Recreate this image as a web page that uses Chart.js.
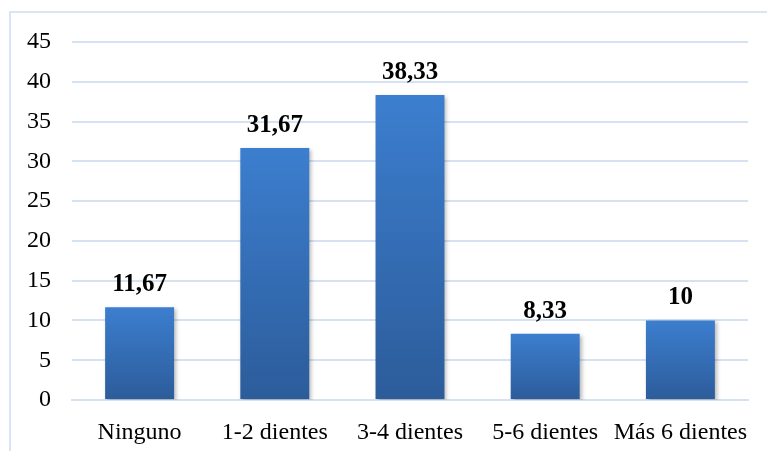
<!DOCTYPE html>
<html>
<head>
<meta charset="utf-8">
<script src="https://cdn.jsdelivr.net/npm/chart.js@4"></script>
<style>
  html, body { margin: 0; padding: 0; background: #fff; }
  #wrap { position: relative; width: 767px; height: 451px; overflow: hidden; }
  #frame { position: absolute; left: 9px; top: 11px; width: 800px; height: 500px;
           border-top: 2px solid #dae4f3; border-left: 2px solid #dae4f3; }
  canvas { position: absolute; left: 0; top: 0; }
</style>
</head>
<body>
<div id="wrap">
  <div id="frame"></div>
  <canvas id="chart" width="767" height="451"></canvas>
</div>
<script>
// Chart data
const categories = ["Ninguno", "1-2 dientes", "3-4 dientes", "5-6 dientes", "Más 6 dientes"];
const values = [11.67, 31.67, 38.33, 8.33, 10];
const yTicks = [0, 5, 10, 15, 20, 25, 30, 35, 40, 45];

const serif = "'Liberation Serif', 'Times New Roman', serif";

// Per-bar vertical gradient
function barGradient(context) {
    const chart = context.chart;
    if (!chart.chartArea || !chart.scales.y) return "#3476c4";
    const y = chart.scales.y;
    const top = y.getPixelForValue(values[context.dataIndex]);
    const bottom = y.getPixelForValue(0);
    const g = chart.ctx.createLinearGradient(0, top, 0, bottom);
    g.addColorStop(0, "#3c7ecf");
    g.addColorStop(1, "#2c5c9a");
    return g;
}

// Soft shadow under bars
const barShadow = {
    id: "barShadow",
    beforeDatasetsDraw(chart) {
        const ctx = chart.ctx;
        ctx.save();
        ctx.shadowColor = "rgba(0,0,0,0.28)";
        ctx.shadowBlur = 4;
        ctx.shadowOffsetX = 2;
        ctx.shadowOffsetY = 2;
    },
    afterDatasetsDraw(chart) {
        chart.ctx.restore();
    }
};

// Value labels above bars
const valueLabels = {
    id: "valueLabels",
    afterDraw(chart) {
        const ctx = chart.ctx;
        const meta = chart.getDatasetMeta(0);
        ctx.save();
        ctx.font = "bold 25px " + serif;
        ctx.fillStyle = "#000";
        ctx.textAlign = "center";
        ctx.textBaseline = "alphabetic";
        meta.data.forEach((bar, i) => {
            const txt = String(values[i]).replace(".", ",");
            ctx.fillText(txt, bar.x, bar.y - 16);
        });
        ctx.restore();
    }
};

new Chart(document.getElementById("chart").getContext("2d"), {
    type: "bar",
    data: {
        labels: categories,
        datasets: [{
            data: values,
            backgroundColor: barGradient,
            borderWidth: 0,
            categoryPercentage: 1,
            barPercentage: 0.51
        }]
    },
    options: {
        responsive: false,
        animation: false,
        layout: { padding: { top: 42, right: 19, left: 0, bottom: 0 } },
        plugins: {
            legend: { display: false },
            tooltip: { enabled: false }
        },
        scales: {
            x: {
                grid: { display: false },
                border: { display: true, color: "#d6e1f2", width: 2 },
                ticks: {
                    color: "#000",
                    font: { family: serif, size: 24 },
                    padding: 10,
                    maxRotation: 0,
                    autoSkip: false
                },
                afterFit(scale) { scale.height = 51; }
            },
            y: {
                min: 0,
                max: 45,
                afterBuildTicks(scale) {
                    scale.ticks = yTicks.map(v => ({ value: v }));
                },
                grid: { color: "#d6e1f2", lineWidth: 2, drawTicks: false },
                border: { display: false },
                ticks: {
                    color: "#000",
                    font: { family: serif, size: 24 },
                    padding: 21
                },
                afterFit(scale) { scale.width = 72; }
            }
        }
    },
    plugins: [barShadow, valueLabels]
});
</script>
</body>
</html>
